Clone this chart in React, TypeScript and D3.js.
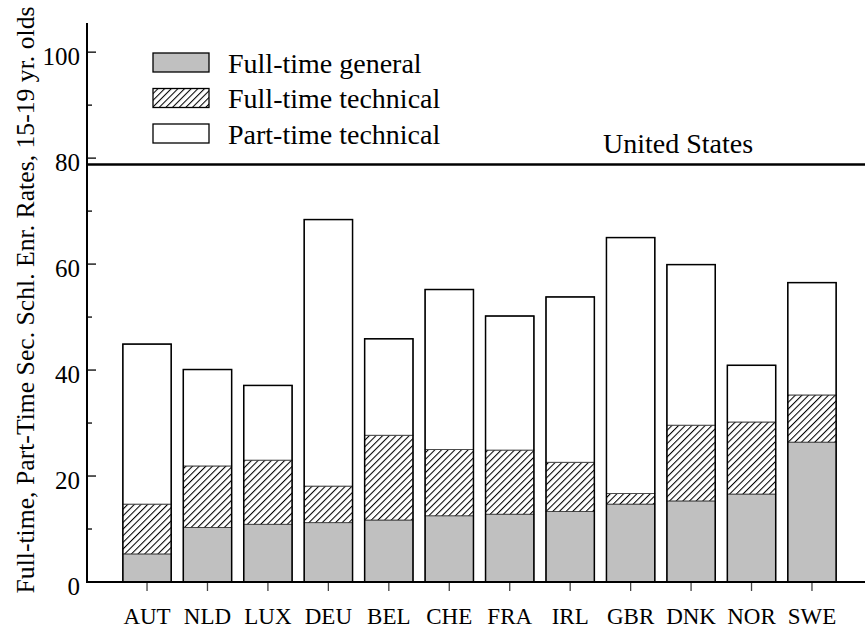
import * as d3 from "d3";
import React, { useEffect, useRef } from "react";

// countries on the x axis
const countries = ["AUT", "NLD", "LUX", "DEU", "BEL", "CHE", "FRA", "IRL", "GBR", "DNK", "NOR", "SWE"];
// stacked segments (percent)
const fullTimeGeneral = [5.3, 10.3, 10.9, 11.2, 11.7, 12.5, 12.8, 13.3, 14.7, 15.3, 16.6, 26.4];
const fullTimeTechnical = [9.4, 11.6, 12.1, 6.9, 16.0, 12.5, 12.1, 9.3, 2.0, 14.3, 13.6, 8.9];
const partTimeTechnical = [30.2, 18.2, 14.1, 50.3, 18.2, 30.2, 25.3, 31.2, 48.3, 30.3, 10.7, 21.2];
const usLevel = 78.8;
const majorTicks = [0, 20, 40, 60, 80, 100];
const minorTicks = [10, 30, 50, 70, 90];
const legendLabels = ["Full-time general", "Full-time technical", "Part-time technical"];

const W = 865;
const H = 629;
const SERIF = "'Liberation Serif', 'Times New Roman', serif";

export default function App() {
  const svgRef = useRef<SVGSVGElement>(null);
  const isRender = useRef(false);

  useEffect(() => {
    if (isRender.current || !svgRef.current) return;
    isRender.current = true;

    const svg = d3.select(svgRef.current);
    const x0 = 87, x1 = 865, yBase = 582;

    const x = d3.scaleBand<string>()
      .domain(countries)
      .range([116.8, 842.2])
      .paddingInner(0.2)
      .paddingOuter(0.1);

    const y = d3.scaleLinear().domain([0, 105.5]).range([yBase, 23]);

    // hatch pattern
    const defs = svg.append("defs");
    const pat = defs.append("pattern")
      .attr("id", "hatch")
      .attr("patternUnits", "userSpaceOnUse")
      .attr("width", 4.7)
      .attr("height", 4.7)
      .attr("patternTransform", "rotate(45)");
    pat.append("rect").attr("width", 4.7).attr("height", 4.7).attr("fill", "#fff");
    pat.append("line")
      .attr("x1", 0).attr("y1", -1).attr("x2", 0).attr("y2", 6)
      .attr("stroke", "#000").attr("stroke-width", 2.1);

    const rows = countries.map((c, i) => ({
      c,
      segs: [
        { lo: 0, hi: fullTimeGeneral[i], fill: "#c0c0c0" },
        { lo: fullTimeGeneral[i], hi: fullTimeGeneral[i] + fullTimeTechnical[i], fill: "url(#hatch)" },
        {
          lo: fullTimeGeneral[i] + fullTimeTechnical[i],
          hi: fullTimeGeneral[i] + fullTimeTechnical[i] + partTimeTechnical[i],
          fill: "#fff",
        },
      ],
    }));

    const bars = svg.append("g");
    rows.forEach((r) => {
      r.segs.forEach((s) => {
        bars.append("rect")
          .attr("x", x(r.c)!)
          .attr("y", y(s.hi))
          .attr("width", x.bandwidth())
          .attr("height", y(s.lo) - y(s.hi))
          .attr("fill", s.fill)
          .attr("stroke", "#333")
          .attr("stroke-width", 0.8);
      });
      const top = r.segs[2].hi;
      bars.append("rect")
        .attr("x", x(r.c)!)
        .attr("y", y(top))
        .attr("width", x.bandwidth())
        .attr("height", y(0) - y(top))
        .attr("fill", "none")
        .attr("stroke", "#000")
        .attr("stroke-width", 1.5);
    });

    // axes
    svg.append("line")
      .attr("x1", x0).attr("x2", x0).attr("y1", 23).attr("y2", yBase + 1)
      .attr("stroke", "#000").attr("stroke-width", 2);
    svg.append("line")
      .attr("x1", x0 - 1).attr("x2", x1).attr("y1", yBase).attr("y2", yBase)
      .attr("stroke", "#000").attr("stroke-width", 2);

    const yAxis = svg.append("g");
    majorTicks.filter((t) => t > 0).forEach((t) => {
      yAxis.append("line")
        .attr("x1", x0).attr("x2", x0 + 9).attr("y1", y(t)).attr("y2", y(t))
        .attr("stroke", "#000").attr("stroke-width", 1.3);
    });
    minorTicks.forEach((t) => {
      yAxis.append("line")
        .attr("x1", x0).attr("x2", x0 + 5).attr("y1", y(t)).attr("y2", y(t))
        .attr("stroke", "#000").attr("stroke-width", 1.3);
    });
    majorTicks.forEach((t) => {
      yAxis.append("text")
        .attr("x", 80)
        .attr("y", y(t) + 12.5)
        .attr("text-anchor", "end")
        .style("font-family", SERIF)
        .style("font-size", "25px")
        .text(String(t));
    });

    const xAxis = svg.append("g");
    countries.forEach((c) => {
      const cx = x(c)! + x.bandwidth() / 2;
      xAxis.append("line")
        .attr("x1", cx).attr("x2", cx).attr("y1", yBase + 1).attr("y2", yBase + 9)
        .attr("stroke", "#444").attr("stroke-width", 1.3);
      xAxis.append("text")
        .attr("x", cx)
        .attr("y", 624)
        .attr("text-anchor", "middle")
        .style("font-family", SERIF)
        .style("font-size", "23px")
        .text(c);
    });

    // y label
    svg.append("text")
      .attr("transform", `translate(34,300) rotate(-90)`)
      .attr("text-anchor", "middle")
      .style("font-family", SERIF)
      .style("font-size", "25.7px")
      .text("Full-time, Part-Time Sec. Schl. Enr. Rates, 15-19 yr. olds");

    // US reference line
    svg.append("line")
      .attr("x1", x0).attr("x2", x1).attr("y1", y(usLevel)).attr("y2", y(usLevel))
      .attr("stroke", "#000").attr("stroke-width", 2.5);
    svg.append("text")
      .attr("x", 603)
      .attr("y", 153)
      .style("font-family", SERIF)
      .style("font-size", "28px")
      .text("United States");

    // legend
    const legendFills = ["#c0c0c0", "url(#hatch)", "#fff"];
    const leg = svg.append("g");
    legendLabels.forEach((l, i) => {
      const ly = 53 + i * 35.5;
      leg.append("rect")
        .attr("x", 153).attr("y", ly).attr("width", 56).attr("height", 19)
        .attr("fill", legendFills[i]).attr("stroke", "#000").attr("stroke-width", 1.3);
      leg.append("text")
        .attr("x", 228).attr("y", ly + 19.5)
        .style("font-family", SERIF)
        .style("font-size", "28px")
        .text(l);
    });
  }, []);

  return (
    <div style={{ position: "absolute", left: 0, top: 0 }}>
      <svg ref={svgRef} width={W} height={H} style={{ display: "block", background: "#fff" }} />
    </div>
  );
}
